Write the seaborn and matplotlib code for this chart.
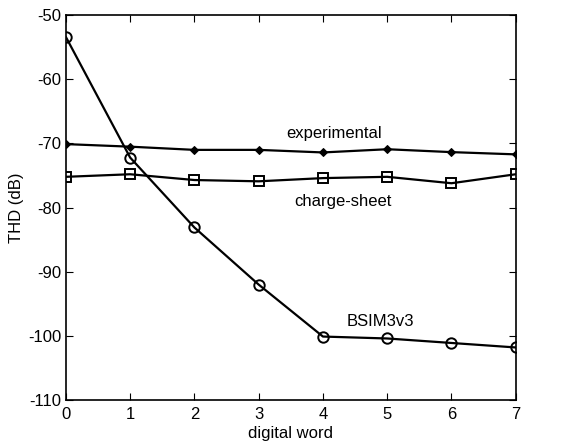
import pandas as pd
import matplotlib
matplotlib.use("Agg")
import matplotlib.pyplot as plt
import seaborn as sns

words = [0, 1, 2, 3, 4, 5, 6, 7]
experimental = [-70.1, -70.5, -71.0, -71.0, -71.4, -70.9, -71.35, -71.7]
charge_sheet = [-75.2, -74.8, -75.7, -75.9, -75.4, -75.2, -76.2, -74.8]
bsim3v3 = [-53.4, -72.2, -83.1, -92.0, -100.1, -100.4, -101.1, -101.8]

df = pd.DataFrame({'word': words, 'experimental': experimental,
                   'charge-sheet': charge_sheet, 'BSIM3v3': bsim3v3})

sns.set_style('ticks')
plt.rcParams['font.family'] = ['Liberation Sans', 'DejaVu Sans']
plt.rcParams['font.size'] = 12
plt.rcParams['axes.unicode_minus'] = False
plt.rcParams['text.color'] = 'black'
plt.rcParams['axes.labelcolor'] = 'black'

fig = plt.figure(figsize=(5.68, 4.46), dpi=100)
ax = fig.add_axes([0.116, 0.103, 0.792, 0.863])

sns.lineplot(data=df, x='word', y='experimental', ax=ax, color='black', lw=1.6,
             marker='D', markersize=4, markerfacecolor='black', markeredgecolor='black')
sns.lineplot(data=df, x='word', y='charge-sheet', ax=ax, color='black', lw=1.6,
             marker='s', markersize=7, markerfacecolor='none', markeredgecolor='black',
             markeredgewidth=1.4)
sns.lineplot(data=df, x='word', y='BSIM3v3', ax=ax, color='black', lw=1.6,
             marker='o', markersize=7.5, markerfacecolor='none', markeredgecolor='black',
             markeredgewidth=1.4)

for sp in ax.spines.values():
    sp.set_visible(True)
    sp.set_linewidth(1.2)
    sp.set_color('black')
ax.set_xlim(0, 7)
ax.set_ylim(-110, -50)
ax.set_xticks(words)
ax.set_yticks(range(-110, -49, 10))
ax.tick_params(direction='in', top=True, right=True, length=5, labelsize=12, colors='black')
ax.tick_params(axis='x', pad=5)
ax.set_xlabel('digital word', fontsize=12, labelpad=3, color='black')
ax.set_ylabel('THD (dB)', fontsize=12, labelpad=3, color='black')

ax.text(4.17, -68.4, 'experimental', ha='center', va='center', fontsize=12, color='black')
ax.text(4.31, -79.0, 'charge-sheet', ha='center', va='center', fontsize=12, color='black')
ax.text(4.89, -97.8, 'BSIM3v3', ha='center', va='center', fontsize=12, color='black')

fig.savefig('out.png', dpi=100)
